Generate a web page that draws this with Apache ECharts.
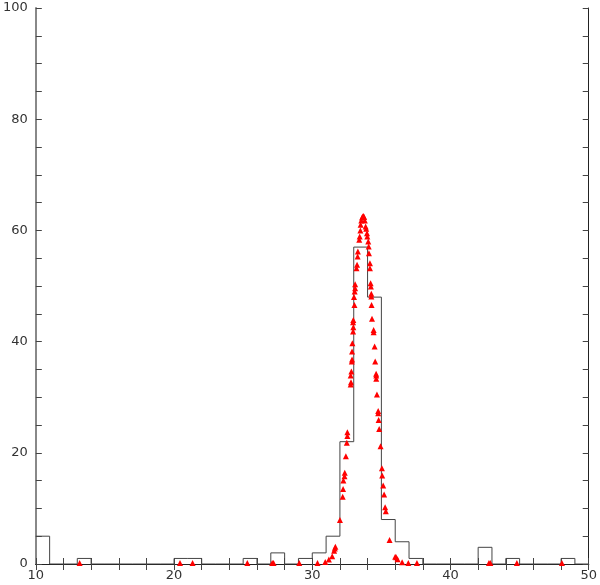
<!DOCTYPE html>
<html>
<head>
<meta charset="utf-8">
<script src="https://cdn.jsdelivr.net/npm/echarts@6/dist/echarts.min.js"></script>
<style>html,body{margin:0;padding:0;background:#fff}#c{width:600px;height:585px}</style>
</head>
<body>
<div id="c"></div>
<script>
// Histogram: left edges of unit-width bins and their counts
const binEdges = [10,11,12,13,14,15,16,17,18,19,20,21,22,23,24,25,26,27,28,29,30,31,32,33,34,35,36,37,38,39,40,41,42,43,44,45,46,47,48,49,50];
const binCounts = [5,0,0,1,0,0,0,0,0,0,1,1,0,0,0,1,0,2,0,1,2,5,22,57,48,8,4,1,0,0,0,0,3,0,1,0,0,0,1,0,0];

// Red triangle points
const ptX = [13.17,20.43,21.34,25.3,27.1,27.2,29.06,30.38,30.94,31.2,31.44,31.58,31.63,31.67,32.0,32.2,32.23,32.25,32.33,32.35,32.43,32.5,32.54,32.54,32.78,32.8,32.78,32.83,32.86,32.88,32.88,32.9,32.95,32.97,32.95,32.97,33.05,33.02,33.07,33.1,33.1,33.2,33.24,33.28,33.3,33.4,33.43,33.48,33.5,33.55,33.6,33.65,33.7,33.75,33.8,33.86,33.9,33.96,33.98,34.05,34.08,34.1,34.17,34.17,34.22,34.24,34.27,34.27,34.29,34.32,34.44,34.44,34.51,34.55,34.62,34.63,34.63,34.68,34.77,34.77,34.8,34.84,34.94,35.04,35.06,35.13,35.2,35.27,35.32,35.59,36.0,36.07,36.17,36.5,36.95,37.57,42.78,42.88,44.8,48.06];
const ptY = [0.2,0.2,0.2,0.2,0.2,0.2,0.2,0.2,0.35,0.8,1.4,2.4,2.8,3.1,7.9,12.1,13.5,15.0,15.8,16.4,19.4,21.8,23.0,23.7,32.3,32.7,33.9,34.6,36.4,36.8,38.2,39.7,41.8,42.6,43.5,43.9,46.6,48.0,49.0,49.6,50.3,53.2,53.8,55.3,56.2,58.3,58.9,60.0,61.0,61.8,62.3,62.5,62.6,62.4,61.8,60.7,60.3,59.5,58.9,58.0,57.1,55.9,54.1,53.2,50.5,49.9,48.6,48.1,46.6,44.1,42.1,41.7,39.1,36.4,34.2,33.9,33.3,30.5,27.5,27.1,25.9,24.3,21.2,17.2,15.9,14.1,12.5,10.2,9.5,4.3,1.3,1.2,0.85,0.3,0.2,0.2,0.2,0.2,0.2,0.2];

const xTicks = [10,20,30,40,50];
const yTicks = [0,20,40,60,80,100];

const chart = echarts.init(document.getElementById('c'), null, {renderer:'canvas'});
const lab = {fontFamily:'DejaVu Sans', fontSize:13, color:'#333'};
const tick = {show:true, inside:true, length:6, lineStyle:{color:'#444', width:1}};
const minor = (n)=>({show:true, splitNumber:n, length:6, lineStyle:{color:'#444', width:1}});
chart.setOption({
  animation:false,
  grid:{left:35, right:9, top:8, bottom:21, containLabel:false},
  xAxis:[
    {type:'value', min:xTicks[0], max:xTicks[xTicks.length-1], interval:10, position:'bottom',
     axisLine:{show:true, lineStyle:{color:'#222', width:1}},
     axisTick:tick, minorTick:minor(5), splitLine:{show:false},
     axisLabel:Object.assign({margin:5}, lab)},
    {type:'value', min:10, max:50, interval:10, position:'top',
     axisLine:{show:true, lineStyle:{color:'#222', width:1}},
     axisTick:tick, minorTick:minor(5), splitLine:{show:false}, axisLabel:{show:false}}
  ],
  yAxis:[
    {type:'value', min:yTicks[0], max:yTicks[yTicks.length-1], interval:20, position:'left',
     axisLine:{show:true, lineStyle:{color:'#888', width:2}},
     axisTick:tick, minorTick:minor(4), splitLine:{show:false},
     axisLabel:Object.assign({margin:8}, lab)},
    {type:'value', min:0, max:100, interval:20, position:'right',
     axisLine:{show:true, lineStyle:{color:'#222', width:1}},
     axisTick:tick, minorTick:minor(4), splitLine:{show:false}, axisLabel:{show:false}}
  ],
  series:[
    {type:'line', step:'end', showSymbol:false, symbol:'none',
     data: binEdges.map((x,i)=>[x, binCounts[i]]),
     lineStyle:{color:'#444', width:1}, z:2},
    {type:'scatter', symbol:'triangle', symbolSize:6,
     data: ptX.map((x,i)=>[x, ptY[i]]),
     itemStyle:{color:'#ff0000', opacity:1}, z:3}
  ]
});
</script>
</body>
</html>
